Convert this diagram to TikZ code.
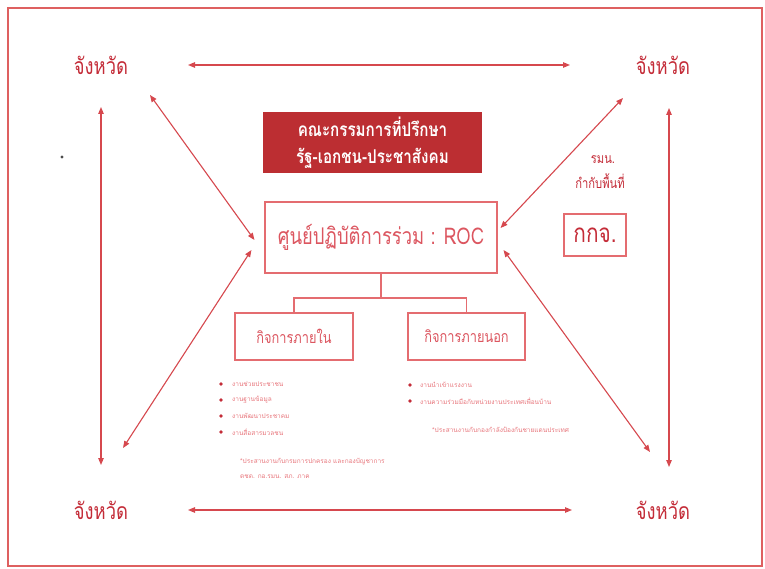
\documentclass[tikz,border=0pt]{standalone}
\usepackage{fontspec}
\setmainfont[Script=Thai]{Loma}
\newfontfamily\cond[Script=Thai, FakeStretch=0.8]{Loma}
\usetikzlibrary{arrows.meta,calc}
\definecolor{lnred}{RGB}{214,72,78}
\definecolor{txred}{RGB}{196,44,56}
\definecolor{boxred}{RGB}{188,46,50}
\definecolor{bdred}{RGB}{228,108,112}
\definecolor{rocred}{RGB}{220,86,96}
\definecolor{ltred}{RGB}{232,118,124}
\definecolor{frred}{RGB}{222,96,96}
\tikzset{
  prov/.style={text=txred, font=\cond\fontsize{23}{26}\selectfont, inner sep=0pt},
  dbl/.style={lnred, line width=1.1pt, {Triangle[length=7pt,width=5.5pt]}-{Triangle[length=7pt,width=5.5pt]}},
  frm/.style={draw=bdred, line width=1.1pt, inner sep=0pt, text=rocred},
  conn/.style={draw=bdred, line width=1.1pt},
  bul/.style={anchor=west, inner sep=0pt, text=ltred, font=\fontsize{6.5}{8}\selectfont},
  bdot/.style={circle, fill=txred, inner sep=0pt, minimum size=3.6pt},
}
\begin{document}
\begin{tikzpicture}[x=1pt,y=-1pt]
\useasboundingbox (0,0) rectangle (765,569);
\fill[white] (0,0) rectangle (765,569);
\draw[frred, line width=1.8pt] (8,8) rectangle (762,566);

% province labels
\node[prov] (tl) at (101,65) {จังหวัด};
\node[prov] (tr) at (663,65) {จังหวัด};
\node[prov] (bl) at (101,510) {จังหวัด};
\node[prov] (br) at (663,510) {จังหวัด};

% advisory board
\node[fill=boxred, minimum width=219pt, minimum height=61pt, inner sep=0pt, align=center,
      text=white, font=\cond\bfseries\fontsize{19}{27}\selectfont] (adv) at (372.5,142.5)
      {คณะกรรมการที่ปรึกษา\\รัฐ-เอกชน-ประชาสังคม};

% ROC
\node[frm, minimum width=232pt, minimum height=71pt, font=\cond\fontsize{23}{26}\selectfont] (roc) at (381,237.5)
      {ศูนย์ปฏิบัติการร่วม : ROC};

% sub boxes
\node[frm, minimum width=118pt, minimum height=47pt, font=\cond\fontsize{16}{18}\selectfont] (inn) at (294,336.5) {กิจการภายใน};
\node[frm, minimum width=117pt, minimum height=47pt, font=\cond\fontsize{16}{18}\selectfont] (out) at (466.5,336.5) {กิจการภายนอก};
\coordinate (jn) at (381,298);
\draw[conn] (roc.south) -- (jn);
\draw[conn] (inn.north) |- (jn) -| (out.north);

% right side
\node[text=txred, inner sep=0pt, font=\cond\fontsize{14}{16}\selectfont] (rmn) at (603,160) {รมน.};
\node[text=txred, inner sep=0pt, font=\cond\fontsize{14}{16}\selectfont] (kkp) at (600,181) {กำกับพื้นที่};
\node[frm, text=txred, minimum width=62pt, minimum height=42pt, font=\cond\fontsize{26}{28}\selectfont] (kkj) at (595,235) {กกจ.};

% arrows between provinces
\draw[dbl, shorten <=87pt, shorten >=93pt] (tl.center) -- (tr.center);
\draw[dbl, shorten <=87pt, shorten >=91pt] (bl.center) -- (br.center);
\draw[dbl, shorten <=42pt, shorten >=45pt] (tl.center) -- (bl.center);
\draw[dbl, shorten <=43pt, shorten >=43pt] ([xshift=6pt]tr.center) -- ([xshift=6pt]br.center);

% diagonals to ROC
\coordinate (tlA) at (150,95);
\coordinate (trA) at (623,98);
\coordinate (blA) at (123,448);
\coordinate (brA) at (650,452);
\draw[dbl] (tlA) -- ($(roc.west)+(-10,2.5)$);
\draw[dbl] (blA) -- ($(roc.west)+(-13,12.5)$);
\draw[dbl] (trA) -- ($(roc.east)+(3,-9.5)$);
\draw[dbl] (brA) -- ($(roc.east)+(6,12.5)$);

% inner affairs list
\node[bdot] (d1) at (221,384) {};
\node[bdot] (d2) at (221,400) {};
\node[bdot] (d3) at (221,416) {};
\node[bdot] (d4) at (221,432) {};
\node[bul] (l1) at (232,384) {งานช่วยประชาชน};
\node[bul] (l2) at (232,400) {งานฐานข้อมูล};
\node[bul] (l3) at (232,416) {งานพัฒนาประชาคม};
\node[bul] (l4) at (232,432) {งานสื่อสารมวลชน};
\node[bul] (f1) at (240,462) {*ประสานงานกับกรมการปกครอง และกองบัญชาการ};
\node[bul] (f2) at (240,477) {ตชด. กอ.รมน. สภ. ภาค};

% outer affairs list
\node[bdot] (e1) at (410,385) {};
\node[bdot] (e2) at (410,401) {};
\node[bul] (r1) at (420,385) {งานนำเข้าแรงงาน};
\node[bul] (r2) at (420,401) {งานความร่วมมือกับหน่วยงานประเทศเพื่อนบ้าน};
\node[bul] (f3) at (432,430) {*ประสานงานกับกองกำลังป้องกันชายแดนประเทศ};

% stray dot
\fill[black!70] (62,157) circle (1.6pt);
\end{tikzpicture}
\end{document}
